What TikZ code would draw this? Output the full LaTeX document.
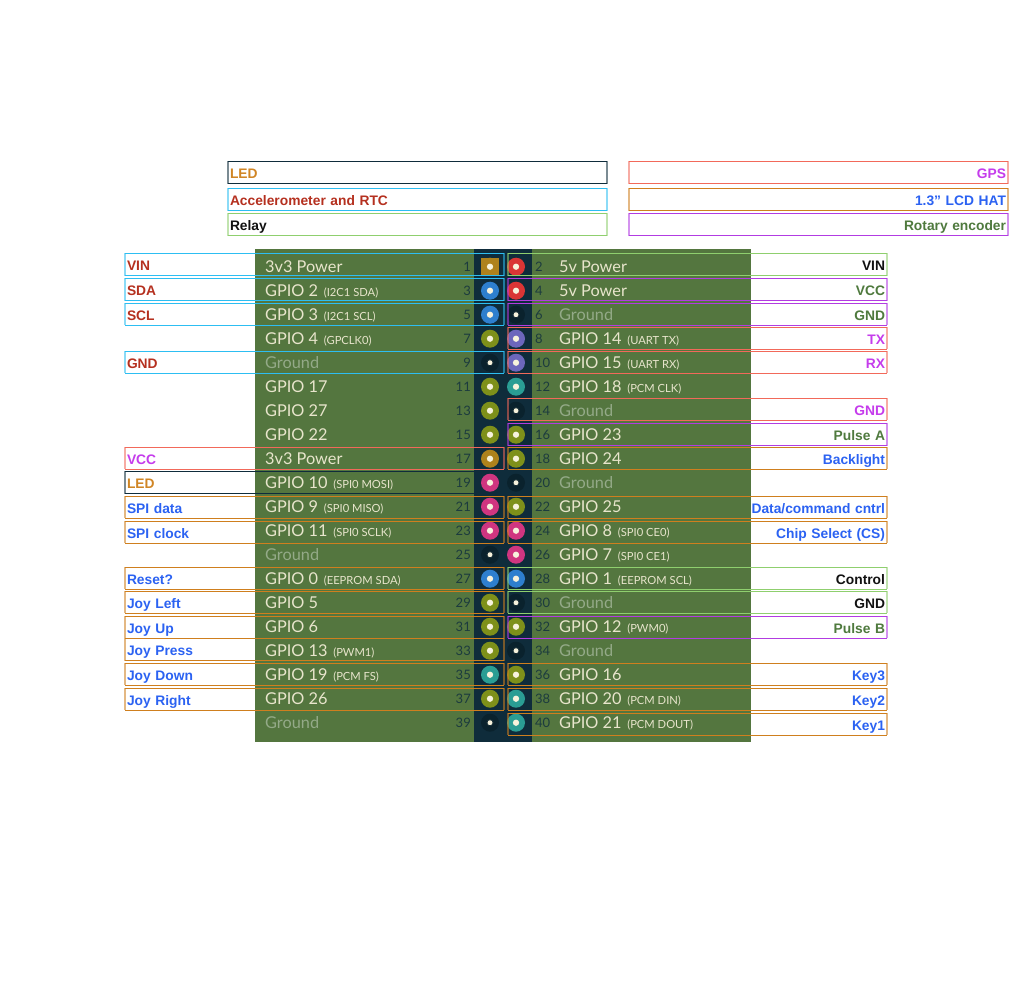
\documentclass[tikz,border=0pt]{standalone}
\usepackage{fontspec}
\setmainfont{Liberation Sans}
\newfontfamily\gpfont{Lato}
\definecolor{boardgreen}{HTML}{54763F}
\definecolor{strip}{HTML}{0F2C3B}
\definecolor{gndpin}{HTML}{0A222D}
\definecolor{pinw}{HTML}{F7F2DC}
\definecolor{labw}{HTML}{E8E5CC}
\definecolor{labg}{HTML}{94AA88}
\definecolor{numc}{HTML}{1C3B3E}
\definecolor{pwr}{HTML}{AE821C}
\definecolor{fiveV}{HTML}{DA3535}
\definecolor{bluep}{HTML}{2E7FCE}
\definecolor{olive}{HTML}{7E901A}
\definecolor{purp}{HTML}{6C66BC}
\definecolor{teal}{HTML}{2A9D94}
\definecolor{mag}{HTML}{D03580}
\definecolor{bcyan}{HTML}{2DBEF2}
\definecolor{bgreen}{HTML}{8FCF6E}
\definecolor{bpurp}{HTML}{B23CE2}
\definecolor{bsalm}{HTML}{F2695A}
\definecolor{bor}{HTML}{CF7F1E}
\definecolor{bdark}{HTML}{0F2C3B}
\definecolor{tred}{HTML}{B5301F}
\definecolor{tblue}{HTML}{2B62F2}
\definecolor{tpurp}{HTML}{C53CEC}
\definecolor{tgreen}{HTML}{4F7A3E}
\definecolor{tor}{HTML}{D08524}
\definecolor{tblk}{HTML}{111111}
\tikzset{
  wirebox/.style={minimum width=379pt,minimum height=22.2pt,inner sep=2pt,outer sep=0pt,text width=375pt,
    font=\fontsize{13.8}{16}\selectfont\bfseries,text height=13pt,text depth=1pt},
  lefttext/.style={wirebox,align=left},
  righttext/.style={wirebox,align=right},
  pinbase/.style={circle,minimum size=18pt,inner sep=0pt,outer sep=0pt},
  pindot/.style={circle,fill=pinw,minimum size=6.3pt,inner sep=0pt},
  gnddot/.style={circle,fill=pinw,minimum size=5pt,inner sep=0pt},
  mainlab/.style={inner sep=0pt,anchor=base west,font=\gpfont\fontsize{16.3}{18}\selectfont},
  numlab/.style={inner sep=0pt,font=\gpfont\fontsize{13}{15}\selectfont,text=numc},
}
\newcommand\smalltxt[1]{\hspace{1.5pt}\fontsize{11.2}{13}\selectfont #1}
% row: index, number, pin colour, text colour, main text, small text
\newcommand\leftrow[6]{%
  \node[pinbase,fill=#3] (p#2) at (490,266.7+24*#1) {};
  \node[pindot] (d#2) at (p#2) {};
  \node[numlab,anchor=base east] (n#2) at (471,271.7+24*#1) {#2};
  \node[mainlab,text=#4] (t#2) at (265,272.2+24*#1) {#5\ifx&#6&\else\ \smalltxt{#6}\fi};
}
\newcommand\rightrow[6]{%
  \node[pinbase,fill=#3] (p#2) at (516,266.7+24*#1) {};
  \node[pindot] (d#2) at (p#2) {};
  \node[numlab,anchor=base west] (n#2) at (535,271.7+24*#1) {#2};
  \node[mainlab,text=#4] (t#2) at (559,272.2+24*#1) {#5\ifx&#6&\else\ \smalltxt{#6}\fi};
}
% wire box: name, x centre, y centre, box colour, text colour, side style, text
\newcommand\wirebox[7]{%
  \node[#6,text=#5] (#1) at (#2,#3) {#7};
  \draw[#4,line width=1pt] (#1.north west) -- (#1.north east) (#1.south west) -- (#1.south east);
  \draw[#4,line width=2pt,opacity=.55] (#1.north west) -- (#1.south west) (#1.north east) -- (#1.south east);
}
\newcommand\Lbox[5]{\wirebox{#1}{314.5}{#2}{#3}{#4}{lefttext}{#5}}
\newcommand\Rbox[5]{\wirebox{#1}{697.5}{#2}{#3}{#4}{righttext}{#5}}
\begin{document}
\begin{tikzpicture}[x=1pt,y=-1pt]
\useasboundingbox (0,0) rectangle (1016,1000);
\fill[white] (0,0) rectangle (1016,1000);
\fill[boardgreen] (255,249) rectangle (751,742);
\fill[strip] (474,249) rectangle (532,742);
% left column
\leftrow{0}{1}{pwr}{labw}{3v3 Power}{}
\leftrow{1}{3}{bluep}{labw}{GPIO 2}{(I2C1 SDA)}
\leftrow{2}{5}{bluep}{labw}{GPIO 3}{(I2C1 SCL)}
\leftrow{3}{7}{olive}{labw}{GPIO 4}{(GPCLK0)}
\leftrow{4}{9}{gndpin}{labg}{Ground}{}
\leftrow{5}{11}{olive}{labw}{GPIO 17}{}
\leftrow{6}{13}{olive}{labw}{GPIO 27}{}
\leftrow{7}{15}{olive}{labw}{GPIO 22}{}
\leftrow{8}{17}{pwr}{labw}{3v3 Power}{}
\leftrow{9}{19}{mag}{labw}{GPIO 10}{(SPI0 MOSI)}
\leftrow{10}{21}{mag}{labw}{GPIO 9}{(SPI0 MISO)}
\leftrow{11}{23}{mag}{labw}{GPIO 11}{(SPI0 SCLK)}
\leftrow{12}{25}{gndpin}{labg}{Ground}{}
\leftrow{13}{27}{bluep}{labw}{GPIO 0}{(EEPROM SDA)}
\leftrow{14}{29}{olive}{labw}{GPIO 5}{}
\leftrow{15}{31}{olive}{labw}{GPIO 6}{}
\leftrow{16}{33}{olive}{labw}{GPIO 13}{(PWM1)}
\leftrow{17}{35}{teal}{labw}{GPIO 19}{(PCM FS)}
\leftrow{18}{37}{olive}{labw}{GPIO 26}{}
\leftrow{19}{39}{gndpin}{labg}{Ground}{}
% right column
\rightrow{0}{2}{fiveV}{labw}{5v Power}{}
\rightrow{1}{4}{fiveV}{labw}{5v Power}{}
\rightrow{2}{6}{gndpin}{labg}{Ground}{}
\rightrow{3}{8}{purp}{labw}{GPIO 14}{(UART TX)}
\rightrow{4}{10}{purp}{labw}{GPIO 15}{(UART RX)}
\rightrow{5}{12}{teal}{labw}{GPIO 18}{(PCM CLK)}
\rightrow{6}{14}{gndpin}{labg}{Ground}{}
\rightrow{7}{16}{olive}{labw}{GPIO 23}{}
\rightrow{8}{18}{olive}{labw}{GPIO 24}{}
\rightrow{9}{20}{gndpin}{labg}{Ground}{}
\rightrow{10}{22}{olive}{labw}{GPIO 25}{}
\rightrow{11}{24}{mag}{labw}{GPIO 8}{(SPI0 CE0)}
\rightrow{12}{26}{mag}{labw}{GPIO 7}{(SPI0 CE1)}
\rightrow{13}{28}{bluep}{labw}{GPIO 1}{(EEPROM SCL)}
\rightrow{14}{30}{gndpin}{labg}{Ground}{}
\rightrow{15}{32}{olive}{labw}{GPIO 12}{(PWM0)}
\rightrow{16}{34}{gndpin}{labg}{Ground}{}
\rightrow{17}{36}{olive}{labw}{GPIO 16}{}
\rightrow{18}{38}{teal}{labw}{GPIO 20}{(PCM DIN)}
\rightrow{19}{40}{teal}{labw}{GPIO 21}{(PCM DOUT)}
% pin 1 is square; ground pins have smaller dots
\fill[pwr] (481,257.7) rectangle (499,275.7);
\node[pindot] (d1sq) at (490,266.7) {};
\foreach \g in {9,25,39,6,14,20,30,34}{\fill[gndpin] (p\g) circle (3.5pt); \node[gnddot] at (p\g) {};}
% legend
\wirebox{legLED}{417.5}{172.5}{bdark}{tor}{lefttext}{LED}
\wirebox{legAcc}{417.5}{199.5}{bcyan}{tred}{lefttext}{Accelerometer and RTC}
\wirebox{legRel}{417.5}{224.5}{bgreen}{tblk}{lefttext}{Relay}
\wirebox{legGPS}{818.5}{172.5}{bsalm}{tpurp}{righttext}{GPS}
\wirebox{legLCD}{818.5}{199.5}{bor}{tblue}{righttext}{1.3" LCD HAT}
\wirebox{legRot}{818.5}{224.5}{bpurp}{tgreen}{righttext}{Rotary encoder}
% left wire boxes
\Lbox{lVIN}{264.5}{bcyan}{tred}{VIN}
\Lbox{lSDA}{289.5}{bcyan}{tred}{SDA}
\Lbox{lSCL}{314.3}{bcyan}{tred}{SCL}
\Lbox{lGND}{362.3}{bcyan}{tred}{GND}
\Lbox{lVCC}{458.3}{bsalm}{tpurp}{VCC}
\Lbox{lLED}{482.5}{bdark}{tor}{LED}
\Lbox{lSPId}{507.3}{bor}{tblue}{SPI data}
\Lbox{lSPIc}{532.3}{bor}{tblue}{SPI clock}
\Lbox{lRes}{578.3}{bor}{tblue}{Reset?}
\Lbox{lJL}{602.3}{bor}{tblue}{Joy Left}
\Lbox{lJU}{627.3}{bor}{tblue}{Joy Up}
\Lbox{lJP}{649.5}{bor}{tblue}{Joy Press}
\Lbox{lJD}{674.3}{bor}{tblue}{Joy Down}
\Lbox{lJR}{699.3}{bor}{tblue}{Joy Right}
% right wire boxes
\Rbox{rVIN}{264.5}{bgreen}{tblk}{VIN}
\Rbox{rVCC}{289.5}{bpurp}{tgreen}{VCC}
\Rbox{rGND}{314.3}{bpurp}{tgreen}{GND}
\Rbox{rTX}{338.3}{bsalm}{tpurp}{TX}
\Rbox{rRX}{362.3}{bsalm}{tpurp}{RX}
\Rbox{rGNDb}{409.3}{bsalm}{tpurp}{GND}
\Rbox{rPA}{434.5}{bpurp}{tgreen}{Pulse A}
\Rbox{rBL}{458.3}{bor}{tblue}{Backlight}
\Rbox{rDC}{507.3}{bor}{tblue}{Data/command cntrl}
\Rbox{rCS}{532.3}{bor}{tblue}{Chip Select (CS)}
\Rbox{rCt}{578.3}{bgreen}{tblk}{Control}
\Rbox{rGNDc}{602.3}{bgreen}{tblk}{GND}
\Rbox{rPB}{627.3}{bpurp}{tgreen}{Pulse B}
\Rbox{rK3}{674.3}{bor}{tblue}{Key3}
\Rbox{rK2}{699.3}{bor}{tblue}{Key2}
\Rbox{rK1}{724.3}{bor}{tblue}{Key1}
\end{tikzpicture}
\end{document}
